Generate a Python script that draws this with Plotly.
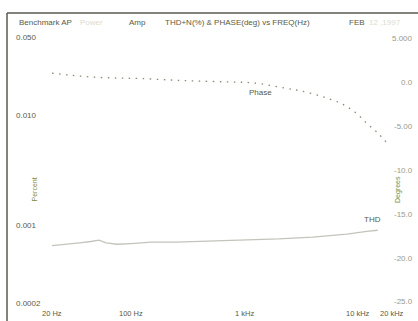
import math
import plotly.graph_objects as go

W, H = 418, 321

# ---- data ----
phase_freq = [20, 28, 44, 75, 120, 220, 400, 740, 1200, 2300, 3100, 4700, 7000, 9400, 12000, 15000, 18000]
phase_deg = [1.0, 0.8, 0.57, 0.45, 0.4, 0.23, 0.11, 0.0, -0.1, -0.7, -1.0, -1.6, -2.4, -3.4, -4.7, -5.8, -6.9]

thd_freq = [20, 28, 35, 44, 52, 60, 75, 100, 150, 250, 400, 700, 1000, 2000, 4000, 8000, 12000, 15000]
thd_pct = [0.00066, 0.00068, 0.00070, 0.00072, 0.00074, 0.00070, 0.00068, 0.00069, 0.00071, 0.00071, 0.00072, 0.00073, 0.00074, 0.00076, 0.00079, 0.00084, 0.00089, 0.00091]

left_ticks = [0.05, 0.01, 0.001, 0.0002]
left_text = ["0.050", "0.010", "0.001", "0.0002"]
right_ticks = [5, 0, -5, -10, -15, -20, -25]
right_text = ["5.000", "0.0", "-5.00", "-10.0", "-15.0", "-20.0", "-25.0"]
x_ticks = [20, 100, 1000, 10000, 20000]
x_text = ["20 Hz", "100 Hz", "1 kHz", "10 kHz", "20 kHz"]

TXT = "#5a5a44"
FAINT = "#dcdcd2"
FONT = "Liberation Sans"

fig = go.Figure()
fig.add_trace(go.Scatter(x=thd_freq, y=thd_pct, mode="lines",
                         line=dict(color="#c4c4bc", width=1.3), yaxis="y", showlegend=False))
fig.add_trace(go.Scatter(x=phase_freq, y=phase_deg, mode="lines", line_shape="spline",
                         line=dict(color="#8a8a78", width=1.3, dash="1.5px,5.5px"),
                         yaxis="y2", showlegend=False))

ann = []
def a(**k):
    d = dict(showarrow=False, font=dict(family=FONT, size=8, color=TXT))
    d.update(k)
    ann.append(d)

# left axis labels (inside plot)
for v, t in zip(left_ticks, left_text):
    a(x=14 / W, xref="paper", y=math.log10(v), yref="y", text=t,
      xanchor="left", yanchor="middle")
# right axis labels
for v, t in zip(right_ticks, right_text):
    a(x=415 / W, xref="paper", y=v, yref="y2", text=t, xanchor="right", yanchor="middle",
      font=dict(family=FONT, size=8, color="#9a9a88"))
# x-axis labels
for v, t in zip(x_ticks, x_text):
    a(x=math.log10(v), xref="x", y=1 - 313 / H, yref="paper", text=t,
      xanchor="center", yanchor="middle", font=dict(family=FONT, size=7.5, color=TXT))

# axis titles
a(x=29 / W, xref="paper", y=1 - 190 / H, yref="paper", text="Percent", textangle=-90,
  font=dict(family=FONT, size=7, color="#7a8a40"))
a(x=404 / W, xref="paper", y=1 - 190 / H, yref="paper", text="Degrees", textangle=-90,
  font=dict(family=FONT, size=7, color="#7a8a40"))

# trace labels
a(x=247 / W, xref="paper", y=1 - 92 / H, yref="paper", text="Phase", xanchor="left",
  yanchor="middle")
a(x=362 / W, xref="paper", y=1 - 219 / H, yref="paper", text="THD", xanchor="left",
  yanchor="middle")

# title row
ty = 1 - 22 / H
a(x=17 / W, xref="paper", y=ty, yref="paper", text="Benchmark AP", xanchor="left", yanchor="middle")
a(x=78 / W, xref="paper", y=ty, yref="paper", text="Power", xanchor="left", yanchor="middle",
  font=dict(family=FONT, size=8, color=FAINT))
a(x=127 / W, xref="paper", y=ty, yref="paper", text="Amp", xanchor="left", yanchor="middle")
a(x=163 / W, xref="paper", y=ty, yref="paper", text="THD+N(%) & PHASE(deg) vs FREQ(Hz)",
  xanchor="left", yanchor="middle")
a(x=347 / W, xref="paper", y=ty, yref="paper", text="FEB", xanchor="left", yanchor="middle")
a(x=367 / W, xref="paper", y=ty, yref="paper", text="12 ,1997", xanchor="left", yanchor="middle",
  font=dict(family=FONT, size=8, color=FAINT))

shapes = [
    dict(type="line", xref="paper", yref="paper", x0=7 / W, x1=1, y0=1 - 13 / H, y1=1 - 13 / H,
         line=dict(color="#5a5a50", width=1.5)),
    dict(type="line", xref="paper", yref="paper", x0=7 / W, x1=7 / W, y0=0, y1=1 - 13 / H,
         line=dict(color="#5a5a50", width=1.5)),
]

fig.update_layout(
    width=W, height=H, margin=dict(l=0, r=0, t=0, b=0),
    paper_bgcolor="white", plot_bgcolor="white",
    xaxis=dict(type="log", range=[0.842, 4.531], showgrid=False, zeroline=False,
               showticklabels=False, ticks="", showline=False),
    yaxis=dict(type="log", range=[-3.861, -0.961], showgrid=False, zeroline=False,
               showticklabels=False, ticks="", showline=False),
    yaxis2=dict(range=[-27.16, 9.32], overlaying="y", side="right", showgrid=False,
                zeroline=False, showticklabels=False, ticks="", showline=False),
    annotations=ann, shapes=shapes, showlegend=False,
)
fig.write_html("out.html")
